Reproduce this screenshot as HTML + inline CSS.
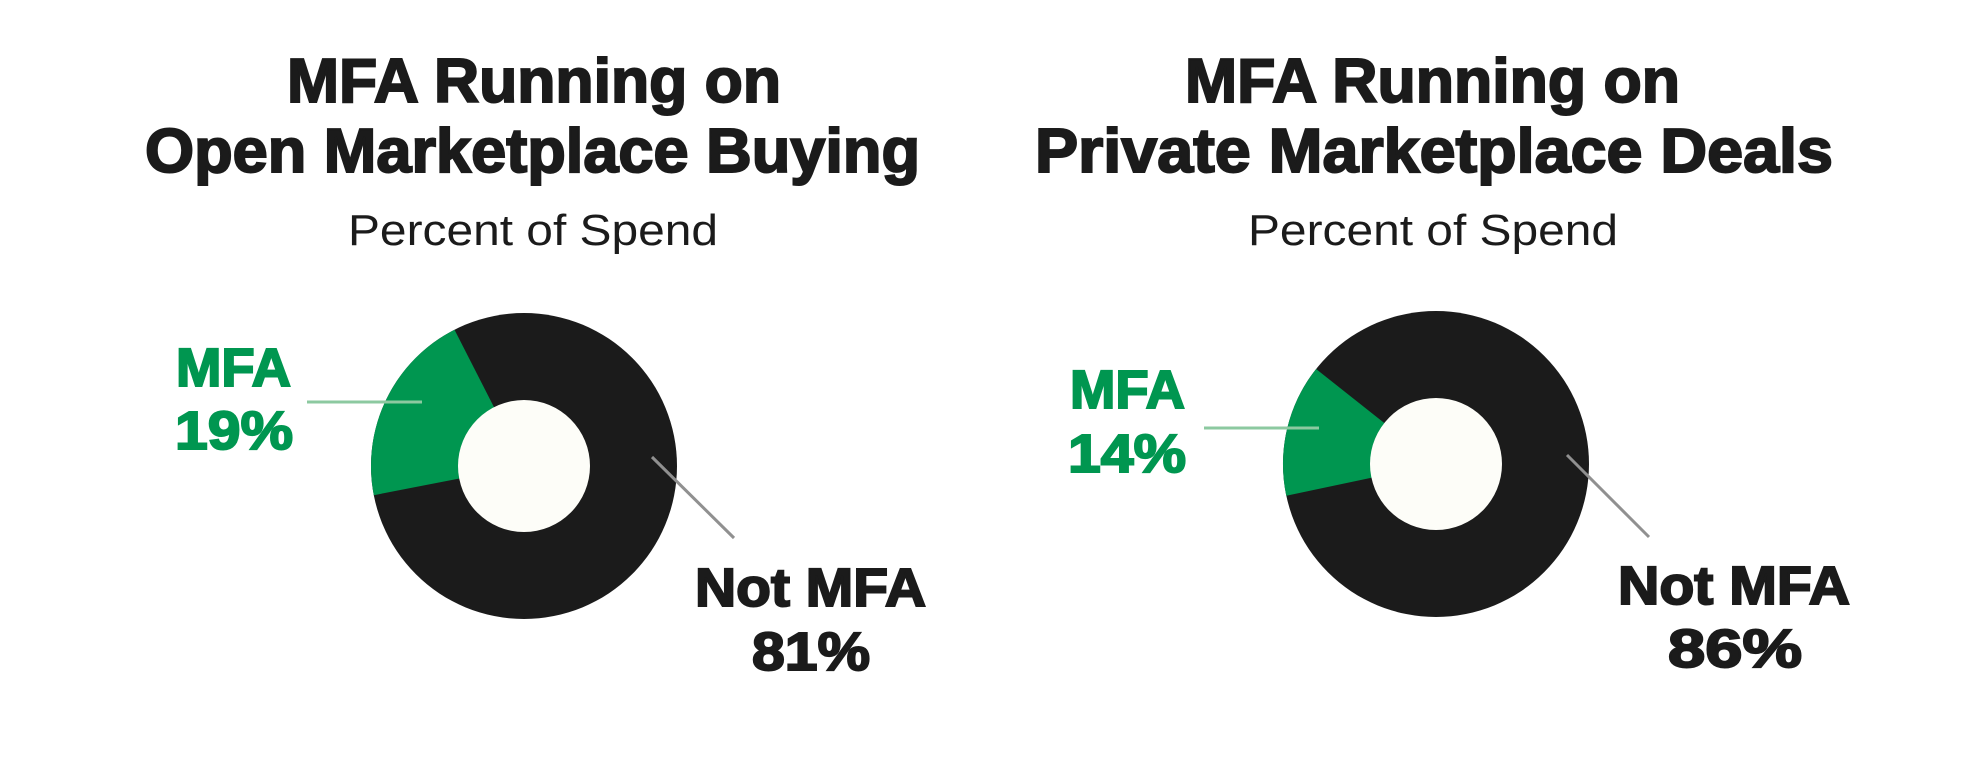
<!DOCTYPE html>
<html><head><meta charset="utf-8"><style>html,body{margin:0;padding:0;background:#fff}svg{display:block}</style></head>
<body>
<svg width="1966" height="758" viewBox="0 0 1966 758" xmlns="http://www.w3.org/2000/svg">
<rect width="1966" height="758" fill="#fff"/>
<g font-family="Liberation Sans, sans-serif" font-weight="bold" fill="#1b1b1b" stroke="#1b1b1b" stroke-width="2">
<text x="287" y="102" font-size="62" textLength="494" lengthAdjust="spacingAndGlyphs">MFA Running on</text>
<text x="145" y="172" font-size="62" textLength="775" lengthAdjust="spacingAndGlyphs">Open Marketplace Buying</text>
<text x="1185" y="102" font-size="62" textLength="495" lengthAdjust="spacingAndGlyphs">MFA Running on</text>
<text x="1035" y="172" font-size="62" textLength="798" lengthAdjust="spacingAndGlyphs">Private Marketplace Deals</text>
</g>
<g font-family="Liberation Sans, sans-serif" fill="#1b1b1b" font-size="44">
<text x="348" y="245" textLength="370" lengthAdjust="spacingAndGlyphs">Percent of Spend</text>
<text x="1248" y="245" textLength="370" lengthAdjust="spacingAndGlyphs">Percent of Spend</text>
</g>
<circle cx="524" cy="466" r="153" fill="#1b1b1b"/>
<path d="M524,466 L373.8,495.2 A153 153 0 0 1 454.5,329.7 Z" fill="#009650"/>
<circle cx="524" cy="466" r="66" fill="#fdfdf8"/>
<circle cx="1436" cy="464" r="153" fill="#1b1b1b"/>
<path d="M1436,464 L1286.3,495.8 A153 153 0 0 1 1316.1,369 Z" fill="#009650"/>
<circle cx="1436" cy="464" r="66" fill="#fdfdf8"/>
<line x1="307" y1="402" x2="422" y2="402" stroke="#8cc9a0" stroke-width="3"/>
<line x1="652" y1="457" x2="734" y2="538" stroke="#909090" stroke-width="3"/>
<line x1="1204" y1="428" x2="1319" y2="428" stroke="#8cc9a0" stroke-width="3"/>
<line x1="1567" y1="455" x2="1649" y2="537" stroke="#909090" stroke-width="3"/>
<g font-family="Liberation Sans, sans-serif" font-weight="bold" font-size="54" stroke-width="2">
<text x="176" y="386" fill="#009650" stroke="#009650" textLength="115" lengthAdjust="spacingAndGlyphs">MFA</text>
<text x="175" y="449" fill="#009650" stroke="#009650" textLength="118" lengthAdjust="spacingAndGlyphs">19%</text>
<text x="695" y="606" fill="#1b1b1b" stroke="#1b1b1b" textLength="231" lengthAdjust="spacingAndGlyphs">Not MFA</text>
<text x="752" y="670" fill="#1b1b1b" stroke="#1b1b1b" textLength="118" lengthAdjust="spacingAndGlyphs">81%</text>
<text x="1070" y="408" fill="#009650" stroke="#009650" textLength="115" lengthAdjust="spacingAndGlyphs">MFA</text>
<text x="1068" y="472" fill="#009650" stroke="#009650" textLength="118" lengthAdjust="spacingAndGlyphs">14%</text>
<text x="1618" y="604" fill="#1b1b1b" stroke="#1b1b1b" textLength="232" lengthAdjust="spacingAndGlyphs">Not MFA</text>
<text x="1668" y="667" fill="#1b1b1b" stroke="#1b1b1b" textLength="134" lengthAdjust="spacingAndGlyphs">86%</text>
</g>
</svg>
</body></html>
